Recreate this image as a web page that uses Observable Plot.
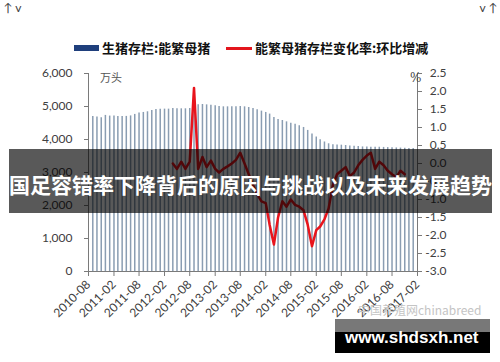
<!DOCTYPE html>
<html><head><meta charset="utf-8">
<script src="https://cdn.jsdelivr.net/npm/d3@7"></script>
<script src="https://cdn.jsdelivr.net/npm/@observablehq/plot@0.6"></script>
<style>
body{margin:0;background:#fff;}
#wrap{position:relative;width:500px;height:362px;overflow:hidden;font-family:"Noto Sans CJK SC",sans-serif;}
#chart svg{display:block}
.abs{position:absolute;white-space:nowrap;}
</style></head><body>
<div id="wrap">
  <div id="chart"></div>
  <div class="abs" style="left:74px;top:45px;width:25px;height:6px;background:#1f3f7c"></div>
  <div class="abs" id="lg1" style="left:102px;top:39px;font-size:13px;font-weight:700;line-height:18px;color:#111"></div>
  <div class="abs" style="left:226px;top:47px;width:26px;height:3px;background:#e3151d"></div>
  <div class="abs" id="lg2" style="left:255px;top:39px;font-size:13px;font-weight:700;line-height:18px;color:#111"></div>
  <div class="abs" id="unitL" style="left:100px;top:70px;font-size:11px;line-height:14px;color:#555"></div>
  <div class="abs" id="unitR" style="left:410px;top:71px;font-size:12px;line-height:14px;color:#444;font-family:'DejaVu Serif',serif"></div>
  <div class="abs" id="mark" style="left:358px;top:302px;font-size:12px;line-height:16px;color:#c4c4c4"></div>
  <div class="abs" id="banner" style="left:9px;top:149px;width:483px;height:64px;background:rgba(0,0,0,0.65);color:#fff;font-size:21px;font-weight:700;line-height:64px;text-align:center;padding-top:3px;box-sizing:border-box;letter-spacing:0px"></div>
  <div class="abs" style="left:335px;top:319px;width:155px;height:13px;background:#787878"></div>
  <div class="abs" style="left:335px;top:332px;width:155px;height:21px;background:#000"></div>
  <div class="abs" id="site" style="left:345px;top:329px;font-family:'Liberation Sans',Arial,sans-serif;font-weight:700;font-size:17px;line-height:17px;color:#fff"></div>
</div>
<script>
// ---- data ----
const legendLabels = ["生猪存栏:能繁母猪", "能繁母猪存栏变化率:环比增减"];
const unitLeft = "万头";
const unitRight = "%";
const bannerText = "国足容错率下降背后的原因与挑战以及未来发展趋势";
const siteText = "www.shdsxh.net";
const sourceText = "中国养殖网chinabreed";

const stockStart = "2010-08";
const sowStock = [4700,4680,4660,4730,4710,4710,4700,4700,4700,4715,
  4760,4800,4820,4840,4880,4910,4920,4920,4920,4940,
  4930,4930,4930,4940,5040,5050,5060,5050,5040,5020,
  5000,4990,4990,4990,4990,5000,4990,4970,4940,4900,
  4860,4820,4770,4670,4605,4575,4535,4495,4465,4415,
  4365,4275,4170,4075,3995,3925,3870,3840,3835,3828,
  3818,3805,3795,3785,3775,3770,3765,3765,3765,3760,
  3755,3750,3745,3740,3735,3730,3725];

const changeStart = "2012-03";
const sowChange = [0.0,-0.15,0.05,-0.15,0.05,2.1,-0.15,0.18,-0.1,0.08,
  -0.15,-0.25,-0.15,-0.08,0.0,0.1,0.3,0.0,-0.3,-0.6,
  -0.85,-1.05,-1.1,-1.7,-2.25,-1.5,-1.05,-1.2,-1.0,-1.15,
  -1.2,-1.3,-1.7,-2.3,-1.85,-1.75,-1.55,-1.25,-0.6,-0.3,
  -0.2,-0.1,-0.35,-0.25,-0.05,0.1,0.22,0.3,-0.15,0.05,
  -0.05,-0.2,-0.3,-0.38,-0.2,-0.3];

const leftTicks = [0,1000,2000,3000,4000,5000,6000];
const rightTicks = [-3,-2.5,-2,-1.5,-1,-0.5,0,0.5,1,1.5,2,2.5];
const xStart = "2010-08", xEnd = "2017-02";

// ---- text ----
document.getElementById("lg1").textContent = legendLabels[0];
document.getElementById("lg2").textContent = legendLabels[1];
document.getElementById("unitL").textContent = unitLeft;
document.getElementById("unitR").textContent = unitRight;
document.getElementById("banner").textContent = bannerText;
document.getElementById("site").textContent = siteText;
document.getElementById("mark").textContent = sourceText;

// ---- build ----
const parse = d3.utcParse("%Y-%m");
const s0 = parse(stockStart), c0 = parse(changeStart);
const stock = sowStock.map((v, i) => ({date: d3.utcMonth.offset(s0, i), v}));
const change = sowChange.map((v, i) => ({date: d3.utcMonth.offset(c0, i), v}));
const yMax = 6000, rMin = -3, rMax = 2.5;
const toLeft = v => (v - rMin) / (rMax - rMin) * yMax;
const fromLeft = y => Math.round((y / yMax * (rMax - rMin) + rMin) * 10) / 10;
const xs = parse(xStart), xe = parse(xEnd);
const xTicks = d3.utcMonth.range(xs, d3.utcDay.offset(xe, 1), 6);
const endOfMonth = d => d3.utcMonth.offset(d.date, 1);

const chart = Plot.plot({
  width: 500, height: 362,
  marginLeft: 88, marginRight: 83, marginTop: 73, marginBottom: 91,
  style: {fontFamily: "Lato, sans-serif", fontSize: "12px", color: "#404040", background: "transparent"},
  x: {type: "utc", domain: [xs, xe]},
  y: {domain: [0, yMax]},
  marks: [
    Plot.ruleX(stock, {x: endOfMonth, y1: 0, y2: "v", stroke: "#8a9db2", strokeWidth: 1.5}),
    Plot.line(change, {x: endOfMonth, y: d => toLeft(d.v), stroke: "#e8141c", strokeWidth: 2.5, strokeLinejoin: "round"}),
    Plot.ruleX([xs], {y1: 0, y2: yMax, stroke: "#7a7a7a"}),
    Plot.ruleX([xe], {y1: 0, y2: yMax, stroke: "#7a7a7a"}),
    Plot.ruleY([0], {stroke: "#7a7a7a"}),
    Plot.axisY(leftTicks, {anchor: "left", tickFormat: d3.format(","), tickSize: 4, tickPadding: 12, stroke: "#7a7a7a"}),
    Plot.axisY(rightTicks.map(toLeft), {anchor: "right", tickFormat: d => fromLeft(d).toFixed(1), tickSize: 4, tickPadding: 25, textAnchor: "end", stroke: "#7a7a7a"}),
    Plot.axisX(xTicks, {tickFormat: d3.utcFormat("%Y-%m"), tickRotate: -45, tickSize: 5, tickPadding: 6, stroke: "#7a7a7a"})
  ]
});
document.getElementById("chart").appendChild(chart);
</script>
</body></html>
